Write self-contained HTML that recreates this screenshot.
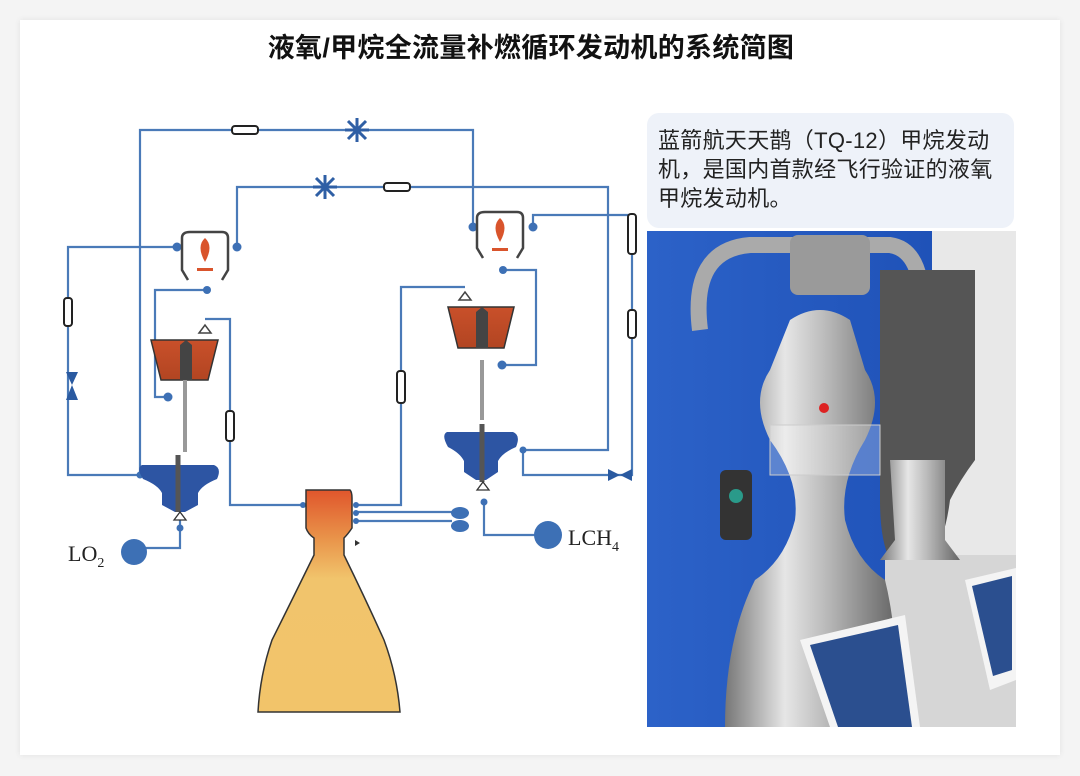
<!DOCTYPE html>
<html><head><meta charset="utf-8"><style>
html,body{margin:0;padding:0;background:#f4f4f4;}
body{width:1080px;height:776px;position:relative;overflow:hidden;font-family:"Liberation Sans","Noto Sans CJK SC",sans-serif;}
.card{position:absolute;left:20px;top:20px;width:1040px;height:735px;background:#fff;box-shadow:0 0 6px rgba(0,0,0,0.08);}
.title{position:absolute;left:0;width:1062px;top:26px;text-align:center;font-size:27px;font-weight:bold;letter-spacing:0.3px;color:#111;}
.box{position:absolute;left:647px;top:113px;width:367px;height:115px;background:#eef2f9;border-radius:12px;}
.box p{margin:0;position:absolute;left:11px;top:13px;font-size:22px;line-height:29px;color:#222;letter-spacing:0.3px;}
svg{position:absolute;left:0;top:0;}
</style></head><body>
<div class="card"></div>
<div class="title">液氧/甲烷全流量补燃循环发动机的系统简图</div>
<div class="box"><p>蓝箭航天天鹊（TQ-12）甲烷发动<br>机，是国内首款经飞行验证的液氧<br>甲烷发动机。</p></div>
<svg width="1080" height="776" viewBox="0 0 1080 776">
<defs>
<linearGradient id="noz" x1="0" y1="0" x2="0" y2="1">
<stop offset="0" stop-color="#e0562c"/><stop offset="0.22" stop-color="#e9944a"/><stop offset="0.4" stop-color="#f1c46c"/><stop offset="1" stop-color="#f2c46a"/></linearGradient>
<linearGradient id="tur" x1="0" y1="0" x2="0" y2="1"><stop offset="0" stop-color="#c9502a"/><stop offset="1" stop-color="#b24522"/></linearGradient>
<linearGradient id="met" x1="0" y1="0" x2="1" y2="0"><stop offset="0" stop-color="#777"/><stop offset="0.35" stop-color="#e6e6e6"/><stop offset="0.6" stop-color="#b8b8b8"/><stop offset="1" stop-color="#666"/></linearGradient>
<linearGradient id="bg2" x1="0" y1="0" x2="1" y2="0"><stop offset="0" stop-color="#2c62c8"/><stop offset="1" stop-color="#1f52b8"/></linearGradient>
</defs>
<g fill="none" stroke="#4a7ab8" stroke-width="2.2">
<path d="M140 475 V130 H473 V227"/>
<path d="M237 247 V187 H608 V450 H523"/>
<path d="M177 247 H68 V475 H140"/>
<path d="M207 290 H155 V397 H168"/>
<path d="M205 319 H230 V505 H303"/>
<path d="M533 227 V215 H632 V475 H523 V450"/>
<path d="M503 270 H536 V365 H502"/>
<path d="M465 287 H401 V505 H358"/>
<path d="M358 512 H452 M358 521 H452"/>
<path d="M484 502 V535 H540"/>
<path d="M180 518 V548 H140"/>
</g>
<g fill="#3d70b5">
<circle cx="177" cy="247" r="4.5"/><circle cx="237" cy="247" r="4.5"/><circle cx="207" cy="290" r="4"/>
<circle cx="473" cy="227" r="4.5"/><circle cx="533" cy="227" r="4.5"/><circle cx="503" cy="270" r="4"/>
<circle cx="168" cy="397" r="4.5"/><circle cx="502" cy="365" r="4.5"/>
<circle cx="140" cy="475" r="3.5"/><circle cx="523" cy="450" r="3.5"/>
<circle cx="303" cy="505" r="3"/><circle cx="356" cy="505" r="3"/><circle cx="356" cy="513" r="3"/><circle cx="356" cy="521" r="3"/>
<circle cx="180" cy="528" r="3.5"/><circle cx="484" cy="502" r="3.5"/>
<circle cx="134" cy="552" r="13"/><circle cx="548" cy="535" r="14"/>
<ellipse cx="460" cy="513" rx="9" ry="6"/><ellipse cx="460" cy="526" rx="9" ry="6"/>
</g>
<g fill="#fff" stroke="#222" stroke-width="2">
<rect x="232" y="126" width="26" height="8" rx="3"/><rect x="384" y="183" width="26" height="8" rx="3"/>
<rect x="64" y="298" width="8" height="28" rx="3"/><rect x="628" y="310" width="8" height="28" rx="3"/>
<rect x="226" y="411" width="8" height="30" rx="3"/><rect x="397" y="371" width="8" height="32" rx="3"/>
<rect x="628" y="214" width="8" height="40" rx="3"/>
</g>
<path d="M66 372 L78 372 L72 385 Z M66 400 L78 400 L72 385 Z" fill="#2a5aa0"/>
<path d="M608 469 L608 481 L620 475 Z M632 469 L632 481 L620 475 Z" fill="#2a5aa0"/>
<g stroke="#2f5fa5" stroke-width="3">
<path d="M345 130 H369 M357 118 V142 M348 121 L366 139 M366 121 L348 139"/>
<path d="M313 187 H337 M325 175 V199 M316 178 L334 196 M334 178 L316 196"/>
</g>
<g fill="none" stroke="#444" stroke-width="2.5">
<path d="M182 255 V238 Q182 232 190 232 H222 Q228 232 228 238 V255 M182 255 V270 L188 280 M228 255 V270 L222 280"/>
<path d="M477 232 V218 Q477 212 485 212 H517 Q523 212 523 218 V232 M477 232 V248 L483 258 M523 232 V248 L517 258"/>
</g>
<path d="M205 238 Q214 246 205 262 Q196 246 205 238Z" fill="#d9542c"/>
<path d="M500 218 Q509 226 500 242 Q491 226 500 218Z" fill="#d9542c"/>
<g fill="#d9542c"><rect x="197" y="268" width="16" height="3"/><rect x="492" y="248" width="16" height="3"/></g>
<path d="M151 340 H218 L208 380 H161 Z" fill="url(#tur)" stroke="#333" stroke-width="1.5"/>
<path d="M448 307 H514 L504 348 H458 Z" fill="url(#tur)" stroke="#333" stroke-width="1.5"/>
<path d="M180 345 L186 340 L192 345 V380 H180Z M476 312 L482 307 L488 312 V348 H476Z" fill="#444"/>
<path d="M199 333 L205 325 L211 333Z M459 300 L465 292 L471 300Z" fill="none" stroke="#444" stroke-width="1.5"/>
<path d="M185 380 V452 M482 360 V420" stroke="#999" stroke-width="4"/>
<path d="M142 465 H214 Q222 468 217 479 Q202 485 198 493 V505 L185 512 H175 L162 505 V493 Q158 485 143 479 Q136 468 142 465Z" fill="#2d55a3"/>
<path d="M447 432 H513 Q521 435 516 447 Q502 453 498 461 V472 L486 480 H476 L464 472 V461 Q460 453 448 447 Q441 435 447 432Z" fill="#2d55a3"/>
<path d="M178 455 V512 M482 424 V482" stroke="#555" stroke-width="5"/>
<path d="M174 520 L180 512 L186 520Z M477 490 L483 482 L489 490Z" fill="#fff" stroke="#333" stroke-width="1.3"/>
<path d="M306 490 H350 Q352 492 352 498 V528 Q348 534 344 538 V555 Q366 600 384 640 Q397 675 400 712 H258 Q260 675 272 640 Q292 600 314 555 V538 Q308 534 306 528 V498 Q306 492 306 490Z" fill="url(#noz)" stroke="#333" stroke-width="1.5"/>
<path d="M355 540 L360 543 L355 546Z" fill="#333"/>
<g font-family="Liberation Serif, serif" fill="#222">
<text x="68" y="561" font-size="22">LO<tspan font-size="14" dy="6">2</tspan></text>
<text x="568" y="545" font-size="22">LCH<tspan font-size="14" dy="6">4</tspan></text>
</g>
<g>
<rect x="647" y="231" width="369" height="496" fill="#f0f0f0"/>
<rect x="647" y="231" width="285" height="496" fill="url(#bg2)"/>
<rect x="932" y="231" width="84" height="330" fill="#e8e8e8"/>
<rect x="885" y="555" width="131" height="172" fill="#d6d6d6"/>
<path d="M700 330 Q690 250 750 245 H890 Q925 250 922 320 V360" fill="none" stroke="#aaa" stroke-width="16"/>
<rect x="790" y="235" width="80" height="60" rx="8" fill="#9a9a9a"/>
<path d="M880 270 H975 V460 Q960 480 950 500 Q945 540 930 560 H890 Q880 540 880 500Z" fill="#555"/>
<path d="M890 460 H945 V540 L960 560 H880 L895 540Z" fill="url(#met)"/>
<path d="M790 320 Q820 300 850 320 L865 370 Q885 400 865 440 Q840 480 845 520 Q855 560 885 580 Q900 640 895 727 H725 Q725 640 755 580 Q785 560 795 520 Q800 480 770 440 Q750 400 770 370 Z" fill="url(#met)"/>
<rect x="770" y="425" width="110" height="50" fill="rgba(255,255,255,0.25)" stroke="#ccc"/>
<circle cx="824" cy="408" r="5" fill="#d22"/>
<rect x="720" y="470" width="32" height="70" rx="6" fill="#333"/>
<circle cx="736" cy="496" r="7" fill="#2a9a8a"/>
<path d="M800 640 L905 615 L920 727 H830Z" fill="#f4f4f4"/>
<path d="M810 645 L898 625 L912 727 H838Z" fill="#2b4f8f"/>
<path d="M965 580 L1016 568 V680 L990 690Z" fill="#f4f4f4"/>
<path d="M972 586 L1012 576 V670 L993 676Z" fill="#2b4f8f"/>
</g>
</svg>
</body></html>
